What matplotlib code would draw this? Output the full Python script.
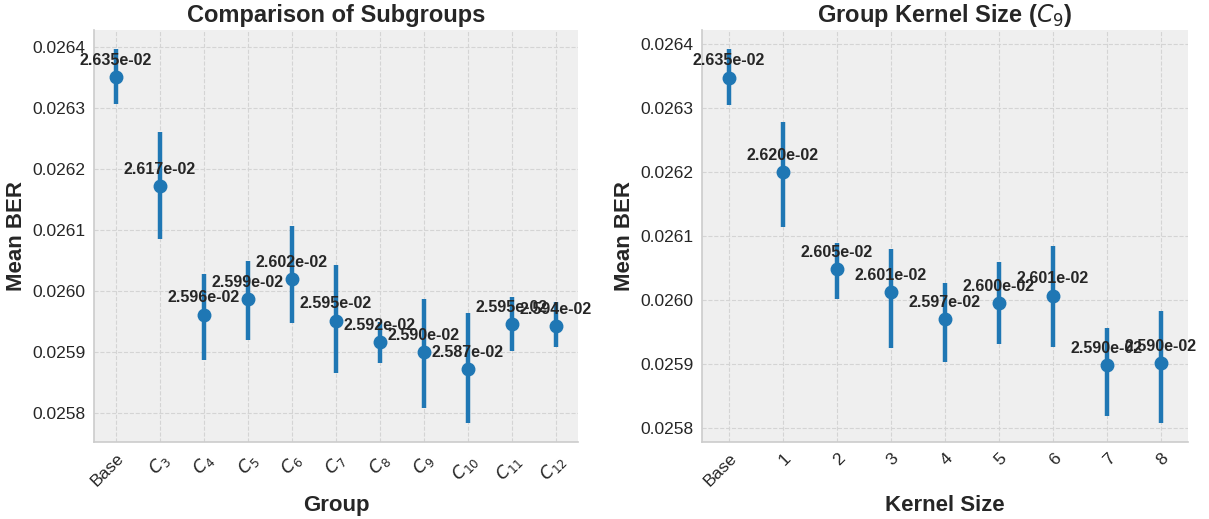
import matplotlib
matplotlib.use("Agg")
import matplotlib.pyplot as plt
import numpy as np

plt.rcParams['font.family'] = ['Liberation Sans', 'DejaVu Sans']
plt.rcParams['mathtext.fontset'] = 'dejavusans'

# DADOS - comparacao de subgrupos
grupos = ["Base", "$C_3$", "$C_4$", "$C_5$", "$C_6$", "$C_7$", "$C_8$",
          "$C_9$", "$C_{10}$", "$C_{11}$", "$C_{12}$"]
media_grupos = [0.026350, 0.026172, 0.025962, 0.025987, 0.026020, 0.025952,
                0.025917, 0.025901, 0.025873, 0.025947, 0.025943]
sup_grupos = [0.026397, 0.026261, 0.026029, 0.026050, 0.026107, 0.026043,
              0.025950, 0.025988, 0.025964, 0.025990, 0.025983]
inf_grupos = [0.026307, 0.026086, 0.025888, 0.025921, 0.025948, 0.025866,
              0.025882, 0.025809, 0.025784, 0.025903, 0.025909]

# DADOS - tamanho do kernel (C9)
kernels = ["Base", "1", "2", "3", "4", "5", "6", "7", "8"]
media_kernel = [0.026347, 0.026200, 0.026048, 0.026013, 0.025971, 0.025996,
                0.026007, 0.025899, 0.025902]
sup_kernel = [0.026392, 0.026277, 0.026089, 0.026079, 0.026026, 0.026059,
              0.026084, 0.025957, 0.025983]
inf_kernel = [0.026304, 0.026114, 0.026002, 0.025925, 0.025904, 0.025932,
              0.025927, 0.025820, 0.025808]

cor = "#1f77b4"
texto = "#262626"

fig = plt.figure(figsize=(12.09, 5.19), dpi=100)
ax1 = fig.add_axes([94/1209, 77/519, 484/1209, 412/519])
ax2 = fig.add_axes([702/1209, 77/519, 486/1209, 412/519])


def desenha(ax, nomes, media, sup, inf, titulo, xlabel):
    x = np.arange(len(nomes))
    media = np.array(media)
    erro = [media - np.array(inf), np.array(sup) - media]
    ax.set_facecolor("#efefef")
    ax.grid(True, linestyle="--", color="#d4d4d4", linewidth=0.8)
    ax.set_axisbelow(True)
    ax.errorbar(x, media, yerr=erro, fmt="o", color=cor, ecolor=cor,
                elinewidth=3.2, markersize=9, capsize=0, zorder=3)
    for xi, v in zip(x, media):
        ax.annotate(f"{v:.3e}", (xi, v), xytext=(0, 12), textcoords="offset points",
                    ha="center", va="center", fontsize=11.5, fontweight="bold",
                    color=texto, zorder=4)
    ax.set_xlim(-0.5, len(nomes) - 0.5)
    ax.set_xticks(x)
    ax.set_xticklabels(nomes, rotation=45, ha="right", rotation_mode="anchor")
    ax.tick_params(axis="both", length=0, labelsize=12.5, labelcolor=texto, pad=6)
    for s in ["top", "right"]:
        ax.spines[s].set_visible(False)
    for s in ["left", "bottom"]:
        ax.spines[s].set_color("#cccccc")
        ax.spines[s].set_linewidth(1.2)
    ax.set_title(titulo, fontsize=17, fontweight="bold", color=texto, pad=6)
    ax.set_xlabel(xlabel, fontsize=16, fontweight="bold", color=texto)
    ax.set_ylabel("Mean BER", fontsize=16, fontweight="bold", color=texto)


desenha(ax1, grupos, media_grupos, sup_grupos, inf_grupos,
        "Comparison of Subgroups", "Group")
desenha(ax2, kernels, media_kernel, sup_kernel, inf_kernel,
        "Group Kernel Size ($C_9$)", "Kernel Size")

fig.savefig("out.png", dpi=100)
